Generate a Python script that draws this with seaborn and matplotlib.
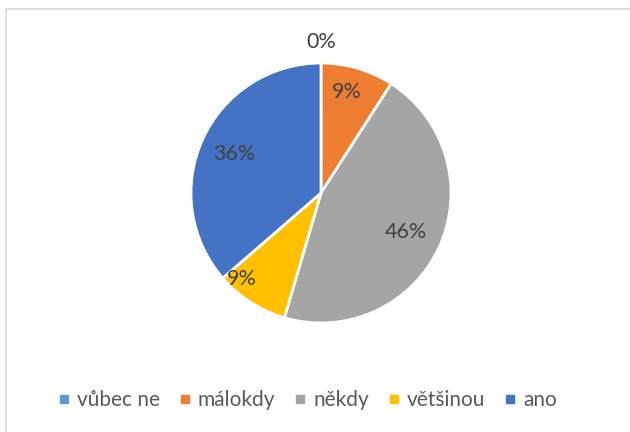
import numpy as np
import matplotlib
matplotlib.use("Agg")
import matplotlib.pyplot as plt
import seaborn as sns
from matplotlib.lines import Line2D

categories = ["vůbec ne", "málokdy", "někdy", "většinou", "ano"]
counts = [0, 1, 5, 1, 4]
pct_labels = ["0%", "9%", "46%", "9%", "36%"]
colors = ["#5B9BD5", "#ED7D31", "#A5A5A5", "#FFC000", "#4472C4"]

# label placement (radial fraction, angle shift in degrees)
label_dist = [1.16, 0.80, 0.72, 0.90, 0.73]
label_shift = [0, -2, 0, 10, 0]

sns.set_style("white")
plt.rcParams["font.family"] = ["Lato", "DejaVu Sans"]

W, H = 630, 432
fig = plt.figure(figsize=(W / 100, H / 100), dpi=100)

cx, cy, R = 321, 193, 130
ax = fig.add_axes([(cx - R) / W, (H - cy - R) / H, 2 * R / W, 2 * R / H])
wedges, _ = ax.pie(counts, colors=colors, startangle=90, counterclock=False,
                   radius=1.0, wedgeprops=dict(edgecolor="white", linewidth=2))
ax.set_xlim(-1, 1)
ax.set_ylim(-1, 1)
ax.set_aspect("equal")
ax.axis("off")

total = sum(counts)
cum = 0
for i, c in enumerate(counts):
    mid = (cum + c / 2) / total * 360 + label_shift[i]
    cum += c
    th = np.deg2rad(90 - mid)
    d = label_dist[i]
    ax.text(d * np.cos(th), d * np.sin(th), pct_labels[i], ha="center", va="center",
            fontsize=15.5, color="#404040", clip_on=False)

# chart frame (top and left edges visible)
fig.add_artist(Line2D([6 / W, 1], [1 - 9 / H, 1 - 9 / H], color="#D9D9D9", lw=1.2,
                      transform=fig.transFigure))
fig.add_artist(Line2D([6 / W, 6 / W], [0, 1 - 9 / H], color="#D9D9D9", lw=1.2,
                      transform=fig.transFigure))

handles = [Line2D([], [], marker="s", linestyle="none", markersize=5.5,
                  markerfacecolor=col, markeredgecolor=col) for col in colors]
fig.legend(handles, categories, loc="center", bbox_to_anchor=(308 / W, 1 - 400 / H),
           ncol=5, frameon=False, fontsize=15, labelcolor="#595959",
           handlelength=0.5, handletextpad=0.37, columnspacing=0.95)

fig.savefig("out.png", dpi=100)
